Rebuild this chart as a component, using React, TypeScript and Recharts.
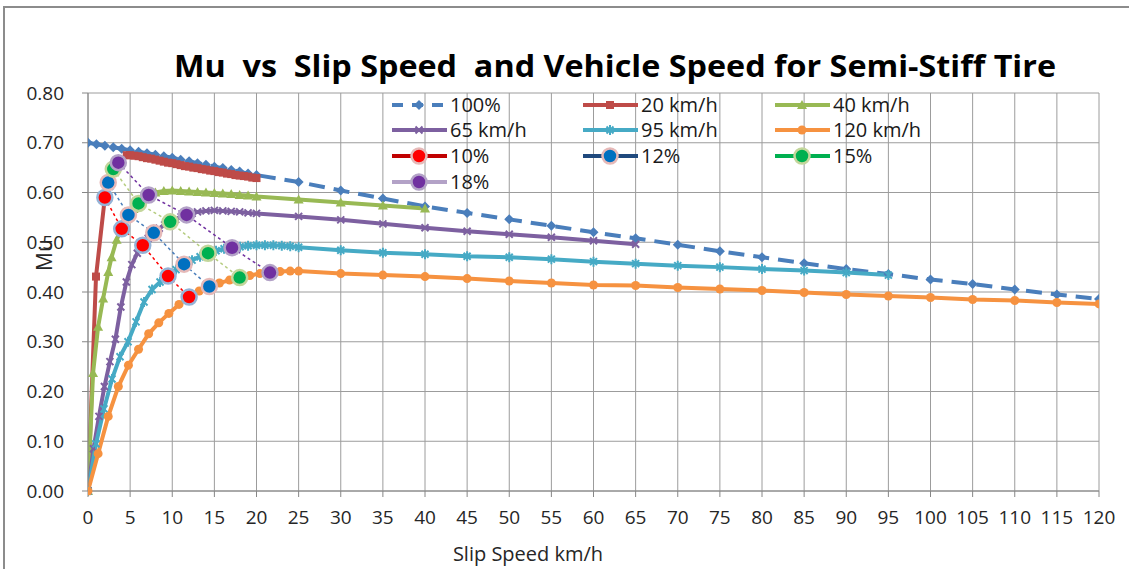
import React from 'react';
import { LineChart, Line, XAxis, YAxis, CartesianGrid } from 'recharts';

type P = [number, number];

const FONT = "'Open Sans', 'Liberation Sans', sans-serif";

const xTicks = [0, 5, 10, 15, 20, 25, 30, 35, 40, 45, 50, 55, 60, 65, 70, 75, 80, 85, 90, 95, 100, 105, 110, 115, 120];
const yTicks = [0, 0.1, 0.2, 0.3, 0.4, 0.5, 0.6, 0.7, 0.8];

const titleText = 'Mu  vs  Slip Speed  and Vehicle Speed for Semi-Stiff Tire';
const xTitle = 'Slip Speed km/h';
const yTitle = 'Mu';

// 100% slip (locked wheel) curve
const lock100: P[] = [
  [0, 0.7], [1, 0.697], [2, 0.694], [3, 0.691], [4, 0.688], [5, 0.685], [6, 0.682], [7, 0.679],
  [8, 0.676], [9, 0.673], [10, 0.67], [11, 0.666], [12, 0.663], [13, 0.659], [14, 0.656], [15, 0.652],
  [16, 0.649], [17, 0.645], [18, 0.642], [19, 0.638], [20, 0.635], [25, 0.621], [30, 0.604], [35, 0.588],
  [40, 0.572], [45, 0.559], [50, 0.546], [55, 0.533], [60, 0.52], [65, 0.508], [70, 0.495], [75, 0.482],
  [80, 0.47], [85, 0.458], [90, 0.446], [95, 0.436], [100, 0.425], [105, 0.416], [110, 0.405], [115, 0.395],
  [120, 0.386],
];

const speed20: P[] = [
  [0, 0], [0.95, 0.431], [2, 0.59], [2.4, 0.62], [3, 0.647], [3.6, 0.66], [4.6, 0.675], [5, 0.675],
  [5.5, 0.674], [6, 0.673], [6.5, 0.671], [7, 0.669], [7.5, 0.668], [8, 0.666], [8.5, 0.664], [9, 0.662],
  [9.5, 0.66], [10, 0.659], [10.5, 0.657], [11, 0.655], [11.5, 0.653], [12, 0.652], [12.5, 0.65],
  [13, 0.649], [13.5, 0.647], [14, 0.646], [14.5, 0.644], [15, 0.643], [15.5, 0.641], [16, 0.64],
  [16.5, 0.638], [17, 0.637], [17.5, 0.635], [18, 0.634], [18.5, 0.633], [19, 0.632], [19.5, 0.63], [20, 0.629],
];

const speed40: P[] = [
  [0, 0], [0.6, 0.237], [1.2, 0.33], [1.8, 0.387], [2.4, 0.44], [2.8, 0.47], [3.4, 0.505], [4, 0.527],
  [4.8, 0.555], [5.4, 0.567], [6, 0.578], [6.6, 0.588], [7.2, 0.595], [8, 0.6], [9, 0.603], [10, 0.604],
  [11, 0.603], [12, 0.602], [13, 0.601], [14, 0.6], [15, 0.599], [16, 0.598], [17, 0.597], [18, 0.595],
  [19, 0.594], [20, 0.592], [25, 0.586], [30, 0.58], [35, 0.574], [40, 0.568],
];

const speed65: P[] = [
  [0, 0], [0.65, 0.085], [1.3, 0.15], [1.95, 0.21], [2.6, 0.26], [3.25, 0.305], [3.9, 0.37], [4.55, 0.42],
  [5.2, 0.455], [5.85, 0.478], [6.5, 0.494], [7.15, 0.508], [7.8, 0.519], [8.45, 0.528], [9.1, 0.535],
  [9.75, 0.541], [10.4, 0.546], [11.05, 0.551], [11.7, 0.555], [12.35, 0.558], [13, 0.561], [14, 0.563],
  [15, 0.564], [16, 0.563], [17, 0.562], [18, 0.561], [19, 0.559], [20, 0.558], [25, 0.552], [30, 0.545],
  [35, 0.537], [40, 0.529], [45, 0.522], [50, 0.516], [55, 0.51], [60, 0.503], [65, 0.496],
];

const speed95: P[] = [
  [0, 0], [0.95, 0.095], [1.9, 0.165], [2.85, 0.225], [3.8, 0.27], [4.75, 0.3], [5.7, 0.34], [6.65, 0.38],
  [7.6, 0.405], [8.55, 0.42], [9.5, 0.432], [10.45, 0.445], [11.4, 0.456], [12.35, 0.464], [13.3, 0.471],
  [14.25, 0.478], [15.2, 0.483], [16.15, 0.487], [17.1, 0.489], [18.05, 0.491], [19, 0.493], [20, 0.494],
  [21, 0.494], [22, 0.494], [23, 0.493], [24, 0.492], [25, 0.49], [30, 0.484], [35, 0.479], [40, 0.476],
  [45, 0.472], [50, 0.47], [55, 0.466], [60, 0.461], [65, 0.457], [70, 0.453], [75, 0.45], [80, 0.446],
  [85, 0.443], [90, 0.439], [95, 0.434],
];

const speed120: P[] = [
  [0, 0], [1.2, 0.075], [2.4, 0.15], [3.6, 0.21], [4.8, 0.253], [6, 0.285], [7.2, 0.316], [8.4, 0.338],
  [9.6, 0.357], [10.8, 0.375], [12, 0.39], [13.2, 0.402], [14.4, 0.411], [15.6, 0.418], [16.8, 0.424],
  [18, 0.429], [19.2, 0.433], [20.4, 0.437], [21.6, 0.439], [22.8, 0.441], [24, 0.442], [25, 0.442],
  [30, 0.437], [35, 0.434], [40, 0.431], [45, 0.427], [50, 0.422], [55, 0.418], [60, 0.414], [65, 0.413],
  [70, 0.409], [75, 0.406], [80, 0.403], [85, 0.399], [90, 0.395], [95, 0.392], [100, 0.389], [105, 0.385],
  [110, 0.383], [115, 0.379], [120, 0.376],
];

const slip10: P[] = [[2, 0.59], [4, 0.527], [6.5, 0.494], [9.5, 0.432], [12, 0.39]];
const slip12: P[] = [[2.4, 0.62], [4.8, 0.555], [7.8, 0.519], [11.4, 0.456], [14.4, 0.411]];
const slip15: P[] = [[3, 0.647], [6, 0.578], [9.75, 0.541], [14.25, 0.478], [18, 0.429]];
const slip18: P[] = [[3.6, 0.66], [7.2, 0.595], [11.7, 0.555], [17.1, 0.489], [21.6, 0.439]];

const toRows = (pts: P[]) => pts.map(([x, y]) => ({ x, y }));

type Kind = 'diamond' | 'square' | 'triangle' | 'xmark' | 'star' | 'circle' | 'big';

function drawMarker(kind: Kind, cx: number, cy: number, fill: string, outline: string, key?: any) {
  switch (kind) {
    case 'diamond':
      return <polygon key={key} points={`${cx},${cy - 5} ${cx + 5},${cy} ${cx},${cy + 5} ${cx - 5},${cy}`} fill={fill} />;
    case 'square':
      return <rect key={key} x={cx - 4} y={cy - 4} width={8} height={8} fill={fill} />;
    case 'triangle':
      return <polygon key={key} points={`${cx},${cy - 5} ${cx + 5},${cy + 4} ${cx - 5},${cy + 4}`} fill={fill} />;
    case 'xmark':
      return (
        <path key={key} d={`M${cx - 3.5},${cy - 3.5}L${cx + 3.5},${cy + 3.5}M${cx - 3.5},${cy + 3.5}L${cx + 3.5},${cy - 3.5}`}
          stroke={fill} strokeWidth={2} />
      );
    case 'star':
      return (
        <path key={key} d={`M${cx - 3.5},${cy - 3.5}L${cx + 3.5},${cy + 3.5}M${cx - 3.5},${cy + 3.5}L${cx + 3.5},${cy - 3.5}M${cx},${cy - 5}L${cx},${cy + 5}`}
          stroke={fill} strokeWidth={2} />
      );
    case 'circle':
      return <circle key={key} cx={cx} cy={cy} r={4.5} fill={fill} />;
    case 'big':
    default:
      return <circle key={key} cx={cx} cy={cy} r={7.5} fill={fill} stroke={outline} strokeWidth={2.5} />;
  }
}

const dotFn = (kind: Kind, fill: string, outline = 'none') => (props: any) => {
  const { cx, cy, index } = props;
  if (cx == null || cy == null) return <g key={`e${index}`} />;
  return drawMarker(kind, cx, cy, fill, outline, `m${index}`);
};

const C = {
  blue: '#4A7EBB',
  red: '#BE4B48',
  green: '#98B954',
  purple: '#7D60A0',
  teal: '#46AAC5',
  orange: '#F69240',
};

type LegendItem = { label: string; line: string; kind: Kind; fill: string; outline?: string; dash?: string };

const legendItems: LegendItem[] = [
  { label: '100%', line: C.blue, kind: 'diamond', fill: C.blue, dash: '11 9' },
  { label: '20 km/h', line: C.red, kind: 'square', fill: C.red },
  { label: '40 km/h', line: C.green, kind: 'triangle', fill: C.green },
  { label: '65 km/h', line: C.purple, kind: 'xmark', fill: C.purple },
  { label: '95 km/h', line: C.teal, kind: 'star', fill: C.teal },
  { label: '120 km/h', line: C.orange, kind: 'circle', fill: C.orange },
  { label: '10%', line: '#C00000', kind: 'big', fill: '#FF0000', outline: '#E6B9B8' },
  { label: '12%', line: '#1F497D', kind: 'big', fill: '#0070C0', outline: '#E6B9B8' },
  { label: '15%', line: '#00B050', kind: 'big', fill: '#00B050', outline: '#C3D69B' },
  { label: '18%', line: '#B3A2C7', kind: 'big', fill: '#7030A0', outline: '#B3A2C7' },
];

const legendCols = [392, 583, 775];
const legendRows = [105, 130, 156, 182];

function Overlay() {
  return (
    <svg width={1129} height={569} style={{ position: 'absolute', left: 0, top: 0, pointerEvents: 'none' }}>
      <text x={615} y={77} textAnchor="middle" fontFamily={FONT} fontWeight="bold" fontSize={31}
        textLength={882} lengthAdjust="spacingAndGlyphs" fill="#000" style={{ whiteSpace: 'pre' }}>
        {titleText}
      </text>
      <text x={528} y={561} textAnchor="middle" fontFamily={FONT} fontSize={20} fill="#262626">{xTitle}</text>
      <text transform="translate(52,255) rotate(-90)" textAnchor="middle" fontFamily={FONT} fontSize={21} fill="#262626">{yTitle}</text>
      {legendItems.map((it, i) => {
        const x0 = legendCols[i % 3];
        const y = legendRows[Math.floor(i / 3)];
        const mid = x0 + 27;
        return (
          <g key={it.label}>
            <line x1={x0} y1={y} x2={x0 + 55} y2={y} stroke={it.line} strokeWidth={4} strokeDasharray={it.dash} />
            {drawMarker(it.kind, mid, y, it.fill, it.outline || 'none')}
            <text x={x0 + 58} y={y + 7} fontFamily={FONT} fontSize={20} fill="#1a1a1a">{it.label}</text>
          </g>
        );
      })}
    </svg>
  );
}

export default function App() {
  const tick = { fill: '#262626', fontSize: 19, fontFamily: FONT };
  return (
    <div style={{ position: 'absolute', left: 0, top: 0, width: 1129, height: 569, background: '#fff', overflow: 'hidden' }}>
      <div style={{ position: 'absolute', left: 3, top: 6, width: 1200, height: 700, borderTop: '2px solid #8c8c8c', borderLeft: '2px solid #8c8c8c' }} />
      <div style={{ position: 'absolute', left: 0, top: 0 }}>
        <LineChart width={1129} height={569} margin={{ top: 93, right: 30, bottom: 0, left: 0 }}>
          <CartesianGrid stroke="#9C9C9C" strokeWidth={1} />
          <XAxis type="number" dataKey="x" domain={[0, 120]} ticks={xTicks} interval={0} height={78}
            tick={tick} tickSize={6} tickMargin={14} stroke="#868686" allowDataOverflow />
          <YAxis type="number" dataKey="y" domain={[0, 0.8]} ticks={yTicks} interval={0} width={88}
            tick={tick} tickSize={6} tickMargin={18} stroke="#868686" tickFormatter={(v: number) => v.toFixed(2)} />
          <Line data={toRows(lock100)} dataKey="y" stroke={C.blue} strokeWidth={4} strokeDasharray="16 9"
            dot={dotFn('diamond', C.blue)} activeDot={false} isAnimationActive={false} />
          <Line data={toRows(speed20)} dataKey="y" stroke={C.red} strokeWidth={4}
            dot={dotFn('square', C.red)} activeDot={false} isAnimationActive={false} />
          <Line data={toRows(speed40)} dataKey="y" stroke={C.green} strokeWidth={4}
            dot={dotFn('triangle', C.green)} activeDot={false} isAnimationActive={false} />
          <Line data={toRows(speed65)} dataKey="y" stroke={C.purple} strokeWidth={4}
            dot={dotFn('xmark', C.purple)} activeDot={false} isAnimationActive={false} />
          <Line data={toRows(speed95)} dataKey="y" stroke={C.teal} strokeWidth={4}
            dot={dotFn('star', C.teal)} activeDot={false} isAnimationActive={false} />
          <Line data={toRows(speed120)} dataKey="y" stroke={C.orange} strokeWidth={4}
            dot={dotFn('circle', C.orange)} activeDot={false} isAnimationActive={false} />
          <Line data={toRows(slip10)} dataKey="y" stroke="#FF0000" strokeWidth={1.5} strokeDasharray="3 3"
            dot={dotFn('big', '#FF0000', '#95B3D7')} activeDot={false} isAnimationActive={false} />
          <Line data={toRows(slip12)} dataKey="y" stroke={C.blue} strokeWidth={1.5} strokeDasharray="3 3"
            dot={dotFn('big', '#0070C0', '#E6B9B8')} activeDot={false} isAnimationActive={false} />
          <Line data={toRows(slip15)} dataKey="y" stroke="#B5CC7F" strokeWidth={1.5} strokeDasharray="3 3"
            dot={dotFn('big', '#00B050', '#C3D69B')} activeDot={false} isAnimationActive={false} />
          <Line data={toRows(slip18)} dataKey="y" stroke="#7030A0" strokeWidth={1.5} strokeDasharray="3 3"
            dot={dotFn('big', '#7030A0', '#B3A2C7')} activeDot={false} isAnimationActive={false} />
        </LineChart>
      </div>
      <Overlay />
    </div>
  );
}
